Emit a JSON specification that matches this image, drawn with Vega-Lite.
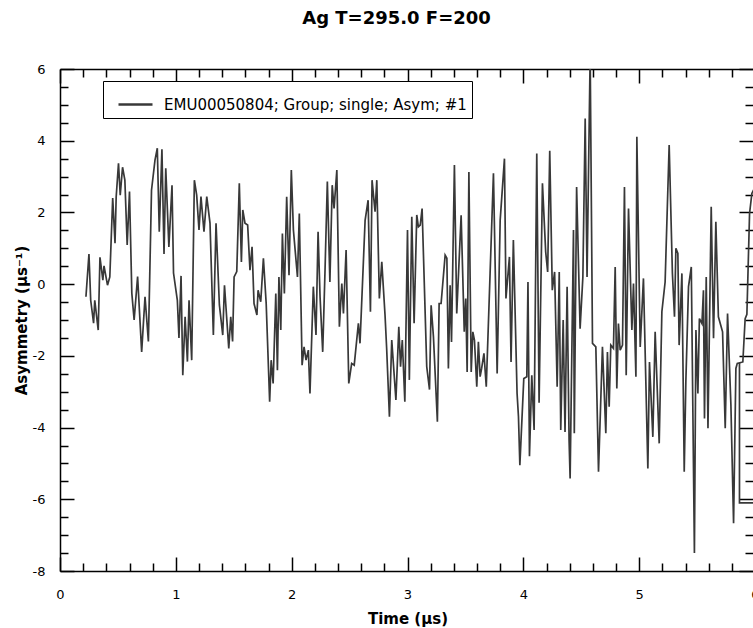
{
  "$schema": "https://vega.github.io/schema/vega-lite/v6.json",
  "width": 693,
  "height": 502,
  "autosize": {"type": "none"},
  "padding": {"left": 60, "top": 69, "right": 0, "bottom": 57},
  "background": "white",
  "config": {
    "view": {"stroke": null},
    "font": "DejaVu Sans",
    "axis": {
      "grid": false,
      "domainColor": "black",
      "domainWidth": 1.5,
      "tickColor": "black",
      "tickWidth": 1.5,
      "labelColor": "black",
      "labelFontSize": 13,
      "labelFlush": false,
      "labelOverlap": false,
      "labelBound": false,
      "titleColor": "black",
      "titleFontSize": 15,
      "titleFontWeight": "bold"
    }
  },
  "title": {
    "text": "Ag T=295.0 F=200",
    "fontSize": 18,
    "fontWeight": "bold",
    "color": "black",
    "baseline": "alphabetic",
    "offset": 21,
    "dx": -10
  },
  "datasets": {
    "asym": [
      {"t":0.224,"a":-0.35},{"t":0.25,"a":0.84},{"t":0.265,"a":-0.45},{"t":0.29,"a":-1.09},{"t":0.30,"a":-0.45},
      {"t":0.33,"a":-1.28},{"t":0.345,"a":0.75},{"t":0.37,"a":0.11},{"t":0.38,"a":0.51},{"t":0.41,"a":-0.03},
      {"t":0.43,"a":0.2},{"t":0.455,"a":2.4},{"t":0.475,"a":1.14},{"t":0.485,"a":2.43},{"t":0.505,"a":3.37},
      {"t":0.52,"a":2.48},{"t":0.54,"a":3.26},{"t":0.56,"a":2.9},{"t":0.58,"a":1.09},{"t":0.6,"a":2.58},
      {"t":0.62,"a":-0.25},{"t":0.64,"a":-1.0},{"t":0.67,"a":0.21},{"t":0.705,"a":-1.89},{"t":0.734,"a":-0.35},
      {"t":0.763,"a":-1.6},{"t":0.79,"a":2.62},{"t":0.82,"a":3.46},{"t":0.84,"a":3.79},{"t":0.857,"a":1.46},
      {"t":0.88,"a":3.76},{"t":0.898,"a":0.84},{"t":0.913,"a":3.23},{"t":0.94,"a":1.04},{"t":0.967,"a":2.76},
      {"t":0.98,"a":0.31},{"t":1.013,"a":-0.45},{"t":1.027,"a":-1.5},{"t":1.045,"a":0.23},{"t":1.06,"a":-2.54},
      {"t":1.08,"a":-0.91},{"t":1.1,"a":-2.16},{"t":1.114,"a":-0.45},{"t":1.137,"a":-2.12},{"t":1.16,"a":2.9},
      {"t":1.18,"a":2.48},{"t":1.2,"a":1.51},{"t":1.217,"a":2.44},{"t":1.243,"a":1.46},{"t":1.267,"a":2.44},
      {"t":1.295,"a":1.7},{"t":1.324,"a":-1.42},{"t":1.347,"a":1.7},{"t":1.376,"a":-0.58},{"t":1.405,"a":-1.42},
      {"t":1.42,"a":-0.03},{"t":1.457,"a":-1.79},{"t":1.474,"a":-0.91},{"t":1.49,"a":-1.6},{"t":1.503,"a":0.2},
      {"t":1.526,"a":0.35},{"t":1.548,"a":2.81},{"t":1.566,"a":0.62},{"t":1.578,"a":2.07},{"t":1.597,"a":1.7},
      {"t":1.62,"a":1.65},{"t":1.64,"a":0.39},{"t":1.658,"a":1.04},{"t":1.675,"a":-0.54},{"t":1.7,"a":-0.86},
      {"t":1.71,"a":-0.17},{"t":1.733,"a":-0.49},{"t":1.756,"a":0.72},{"t":1.78,"a":-0.54},{"t":1.81,"a":-3.28},
      {"t":1.823,"a":-2.12},{"t":1.84,"a":-2.77},{"t":1.863,"a":-0.26},{"t":1.877,"a":-2.4},{"t":1.89,"a":0.2},
      {"t":1.906,"a":-1.28},{"t":1.92,"a":1.41},{"t":1.937,"a":-0.26},{"t":1.957,"a":2.44},{"t":1.977,"a":0.25},
      {"t":1.997,"a":3.18},{"t":2.015,"a":1.51},{"t":2.05,"a":0.2},{"t":2.066,"a":1.97},{"t":2.09,"a":-2.26},
      {"t":2.107,"a":-1.75},{"t":2.124,"a":-2.12},{"t":2.144,"a":-1.84},{"t":2.158,"a":-3.05},{"t":2.187,"a":-0.07},
      {"t":2.21,"a":-1.42},{"t":2.228,"a":1.46},{"t":2.245,"a":-0.35},{"t":2.268,"a":-1.89},{"t":2.288,"a":0.39},
      {"t":2.308,"a":2.86},{"t":2.33,"a":0.06},{"t":2.35,"a":2.76},{"t":2.366,"a":2.11},{"t":2.39,"a":3.18},
      {"t":2.412,"a":-1.19},{"t":2.433,"a":0.02},{"t":2.447,"a":-0.82},{"t":2.47,"a":0.95},{"t":2.493,"a":-2.77},
      {"t":2.518,"a":-2.21},{"t":2.54,"a":-2.26},{"t":2.576,"a":-1.09},{"t":2.59,"a":-1.65},{"t":2.634,"a":1.78},
      {"t":2.66,"a":2.34},{"t":2.68,"a":-0.77},{"t":2.694,"a":2.9},{"t":2.72,"a":2.02},{"t":2.735,"a":2.9},
      {"t":2.757,"a":-0.4},{"t":2.778,"a":0.62},{"t":2.806,"a":-0.86},{"t":2.82,"a":-1.79},{"t":2.844,"a":-3.7},
      {"t":2.864,"a":-1.56},{"t":2.9,"a":-3.23},{"t":2.925,"a":-1.19},{"t":2.94,"a":-2.3},{"t":2.955,"a":-1.56},
      {"t":2.977,"a":-3.28},{"t":3.0,"a":1.51},{"t":3.016,"a":-2.67},{"t":3.037,"a":1.88},{"t":3.057,"a":-1.09},
      {"t":3.08,"a":1.93},{"t":3.094,"a":1.6},{"t":3.11,"a":1.65},{"t":3.126,"a":2.11},{"t":3.166,"a":-2.3},
      {"t":3.19,"a":-2.94},{"t":3.204,"a":-0.59},{"t":3.224,"a":-1.47},{"t":3.258,"a":-3.84},{"t":3.273,"a":-0.54},
      {"t":3.29,"a":-0.54},{"t":3.325,"a":0.81},{"t":3.34,"a":0.72},{"t":3.353,"a":-2.35},{"t":3.368,"a":-0.03},
      {"t":3.38,"a":-1.61},{"t":3.405,"a":3.32},{"t":3.425,"a":-0.82},{"t":3.463,"a":1.92},{"t":3.49,"a":-1.33},
      {"t":3.503,"a":-0.4},{"t":3.515,"a":-2.45},{"t":3.53,"a":3.13},{"t":3.55,"a":-2.45},{"t":3.564,"a":-1.33},
      {"t":3.578,"a":-1.56},{"t":3.598,"a":-2.86},{"t":3.612,"a":-1.61},{"t":3.627,"a":-2.58},{"t":3.64,"a":-2.35},
      {"t":3.66,"a":-1.93},{"t":3.68,"a":-2.86},{"t":3.713,"a":0.3},{"t":3.742,"a":3.09},{"t":3.774,"a":-2.49},
      {"t":3.8,"a":1.78},{"t":3.837,"a":3.5},{"t":3.85,"a":-0.4},{"t":3.88,"a":0.76},{"t":3.894,"a":-2.17},
      {"t":3.914,"a":1.23},{"t":3.946,"a":-3.05},{"t":3.958,"a":-3.7},{"t":3.97,"a":-5.05},{"t":4.004,"a":-2.63},
      {"t":4.03,"a":-2.58},{"t":4.04,"a":0.06},{"t":4.053,"a":-4.8},{"t":4.073,"a":-2.54},{"t":4.093,"a":-4.07},
      {"t":4.116,"a":3.64},{"t":4.136,"a":-3.31},{"t":4.165,"a":2.81},{"t":4.193,"a":0.9},{"t":4.21,"a":0.34},
      {"t":4.228,"a":3.72},{"t":4.25,"a":-0.17},{"t":4.27,"a":0.34},{"t":4.292,"a":-2.86},{"t":4.31,"a":0.34},
      {"t":4.323,"a":-4.07},{"t":4.344,"a":-1.0},{"t":4.36,"a":-4.12},{"t":4.378,"a":-0.07},{"t":4.395,"a":-4.35},
      {"t":4.404,"a":-5.42},{"t":4.433,"a":1.51},{"t":4.44,"a":-4.16},{"t":4.46,"a":2.71},{"t":4.49,"a":-1.24},
      {"t":4.514,"a":0.2},{"t":4.534,"a":4.62},{"t":4.55,"a":0.2},{"t":4.577,"a":6.4},{"t":4.597,"a":-1.65},
      {"t":4.626,"a":-1.75},{"t":4.649,"a":-5.23},{"t":4.683,"a":-1.75},{"t":4.712,"a":-4.16},{"t":4.726,"a":-1.89},
      {"t":4.741,"a":-3.42},{"t":4.755,"a":-1.7},{"t":4.778,"a":-1.79},{"t":4.793,"a":0.48},{"t":4.807,"a":-2.91},
      {"t":4.821,"a":-1.1},{"t":4.836,"a":-1.84},{"t":4.856,"a":-1.7},{"t":4.873,"a":2.71},{"t":4.888,"a":-2.54},
      {"t":4.908,"a":2.11},{"t":4.937,"a":-1.28},{"t":4.951,"a":0.02},{"t":4.972,"a":-2.58},{"t":4.98,"a":4.11},
      {"t":5.009,"a":-1.75},{"t":5.037,"a":0.16},{"t":5.075,"a":-5.14},{"t":5.089,"a":-2.17},{"t":5.118,"a":-4.26},
      {"t":5.138,"a":-1.33},{"t":5.173,"a":-4.44},{"t":5.196,"a":-0.77},{"t":5.224,"a":0.06},{"t":5.259,"a":3.88},
      {"t":5.287,"a":0.3},{"t":5.305,"a":-0.91},{"t":5.317,"a":1.0},{"t":5.334,"a":0.86},{"t":5.345,"a":-1.7},
      {"t":5.369,"a":0.3},{"t":5.389,"a":-5.23},{"t":5.403,"a":-2.72},{"t":5.426,"a":-0.07},{"t":5.45,"a":0.48},
      {"t":5.477,"a":-7.5},{"t":5.49,"a":-1.28},{"t":5.507,"a":-3.05},{"t":5.52,"a":-0.96},{"t":5.542,"a":-1.1},
      {"t":5.555,"a":-0.17},{"t":5.564,"a":-3.75},{"t":5.579,"a":0.2},{"t":5.594,"a":-4.02},{"t":5.622,"a":2.16},
      {"t":5.642,"a":-1.51},{"t":5.662,"a":1.74},{"t":5.684,"a":-0.91},{"t":5.72,"a":-1.33},{"t":5.743,"a":-4.02},
      {"t":5.763,"a":-0.82},{"t":5.792,"a":-3.37},{"t":5.815,"a":-6.67},{"t":5.835,"a":-2.35},{"t":5.847,"a":-2.21},
      {"t":5.895,"a":-2.17},{"t":5.915,"a":-0.96},{"t":5.93,"a":-0.84},{"t":5.953,"a":1.97},{"t":5.973,"a":2.53},
      {"t":6.0,"a":2.7}
    ],
    "edge": [
      {"i":0,"t":5.866,"a":-2.2},{"i":1,"t":5.866,"a":-6.1},{"i":2,"t":6.1,"a":-6.1}
    ]
  },
  "layer": [
    {
      "data": {"name": "asym"},
      "mark": {"type": "line", "clip": true, "strokeWidth": 1.7},
      "encoding": {
        "x": {
          "field": "t",
          "type": "quantitative",
          "scale": {"domain": [0, 6], "range": [0, 695], "nice": false, "zero": false},
          "axis": {
            "orient": "bottom",
            "title": "Time (µs)",
            "titlePadding": 4,
            "values": [0,0.2,0.4,0.6,0.8,1,1.2,1.4,1.6,1.8,2,2.2,2.4,2.6,2.8,3,3.2,3.4,3.6,3.8,4,4.2,4.4,4.6,4.8,5,5.2,5.4,5.6,5.8,6],
            "tickSize": {"condition": {"test": "abs(datum.value - round(datum.value)) < 0.01", "value": -14}, "value": -8},
            "labelExpr": "abs(datum.value - round(datum.value)) < 0.01 ? toString(datum.value) : ''",
            "labelPadding": 31
          }
        },
        "y": {
          "field": "a",
          "type": "quantitative",
          "scale": {"domain": [-8, 6], "nice": false, "zero": false},
          "axis": {
            "orient": "left",
            "title": "Asymmetry (µs⁻¹)",
            "titlePadding": 3,
            "values": [-8,-7.5,-7,-6.5,-6,-5.5,-5,-4.5,-4,-3.5,-3,-2.5,-2,-1.5,-1,-0.5,0,0.5,1,1.5,2,2.5,3,3.5,4,4.5,5,5.5,6],
            "tickSize": {"condition": {"test": "abs(datum.value % 2) < 0.01", "value": -14}, "value": -8},
            "labelExpr": "abs(datum.value % 2) < 0.01 ? toString(datum.value) : ''",
            "labelPadding": 29
          }
        },
        "color": {
          "datum": "EMU00050804; Group; single; Asym; #1",
          "type": "nominal",
          "scale": {"range": ["#383838"]},
          "legend": {
            "orient": "none",
            "legendX": 43,
            "legendY": 12,
            "title": null,
            "symbolType": "stroke",
            "symbolSize": 1156,
            "symbolStrokeWidth": 2.5,
            "symbolOffset": 9,
            "labelFontSize": 15,
            "labelColor": "black",
            "labelOffset": 10,
            "labelLimit": 0,
            "padding": 5,
            "strokeColor": "black",
            "fillColor": "white"
          }
        }
      }
    },
    {
      "data": {"name": "edge"},
      "mark": {"type": "line", "clip": true, "strokeWidth": 1.7, "color": "#383838"},
      "encoding": {
        "x": {
          "field": "t",
          "type": "quantitative",
          "scale": {"domain": [0, 6], "range": [0, 695], "nice": false, "zero": false},
          "axis": {
            "orient": "top",
            "title": null,
            "labels": false,
            "values": [0,0.2,0.4,0.6,0.8,1,1.2,1.4,1.6,1.8,2,2.2,2.4,2.6,2.8,3,3.2,3.4,3.6,3.8,4,4.2,4.4,4.6,4.8,5,5.2,5.4,5.6,5.8,6],
            "tickSize": {"condition": {"test": "abs(datum.value - round(datum.value)) < 0.01", "value": -14}, "value": -8}
          }
        },
        "y": {
          "field": "a",
          "type": "quantitative",
          "scale": {"domain": [-8, 6], "nice": false, "zero": false},
          "axis": {
            "orient": "right",
            "title": null,
            "labels": false,
            "domain": false,
            "values": [-8,-7.5,-7,-6.5,-6,-5.5,-5,-4.5,-4,-3.5,-3,-2.5,-2,-1.5,-1,-0.5,0,0.5,1,1.5,2,2.5,3,3.5,4,4.5,5,5.5,6],
            "tickSize": {"condition": {"test": "abs(datum.value % 2) < 0.01", "value": -14}, "value": -8}
          }
        },
        "order": {"field": "i", "type": "quantitative"}
      }
    }
  ],
  "resolve": {"axis": {"x": "independent", "y": "independent"}}
}
